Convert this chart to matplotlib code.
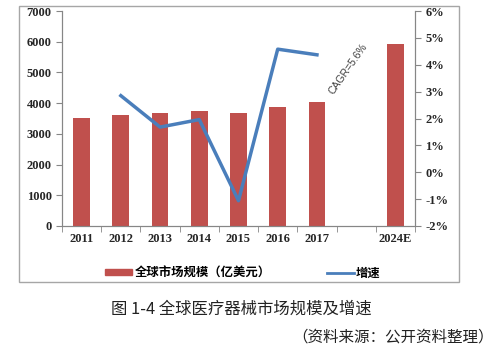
import numpy as np
import matplotlib
matplotlib.use("Agg")
import matplotlib.pyplot as plt
from matplotlib.patches import Rectangle
from matplotlib.lines import Line2D

plt.rcParams['font.family'] = ['Liberation Serif', 'Noto Sans CJK SC', 'DejaVu Sans']

# 数据
years = ['2011', '2012', '2013', '2014', '2015', '2016', '2017', '', '2024E']
market = [3500, 3610, 3670, 3745, 3690, 3865, 4040, np.nan, 5940]
growth_years = ['2012', '2013', '2014', '2015', '2016', '2017']
growth = [2.85, 1.68, 1.96, -1.06, 4.58, 4.37]

bar_color = '#C0504D'
line_color = '#4A7EBB'
axis_color = '#868686'

fig = plt.figure(figsize=(5.01, 3.52), dpi=100)
ax = fig.add_axes([62 / 501, 1 - 226 / 352, (415 - 62) / 501, (226 - 11) / 352])

x = np.arange(len(years))
ax.bar(x, market, width=0.43, color=bar_color, zorder=2)
ax.set_xlim(-0.5, len(years) - 0.5)
ax.set_ylim(0, 7000)
ax.set_yticks(range(0, 7001, 1000))
ax.set_xticks(x)
ax.set_xticklabels(years)
ax.set_xticks(np.arange(-0.5, len(years), 1), minor=True)
ax.tick_params(axis='x', which='major', length=0, pad=5)
ax.tick_params(axis='x', which='minor', length=4, direction='out', color=axis_color)
ax.tick_params(axis='y', length=4, direction='out', color=axis_color)
for lab in ax.get_xticklabels() + ax.get_yticklabels():
    lab.set_fontsize(9)
    lab.set_fontweight('bold')
    lab.set_color('#262626')
ax.spines['top'].set_visible(False)
for s in ['left', 'bottom', 'right']:
    ax.spines[s].set_color(axis_color)

ax2 = ax.twinx()
gx = [years.index(y) for y in growth_years]
ax2.plot(gx, growth, color=line_color, lw=2.5, zorder=3)
ax2.set_ylim(-2, 6)
ax2.set_yticks(range(-2, 7))
ax2.set_yticklabels([f'{v}%' for v in range(-2, 7)])
ax2.tick_params(axis='y', length=4, direction='out', color=axis_color)
for lab in ax2.get_yticklabels():
    lab.set_fontsize(9)
    lab.set_fontweight('bold')
    lab.set_color('#262626')
ax2.spines['top'].set_visible(False)
for s in ['left', 'bottom', 'right']:
    ax2.spines[s].set_color(axis_color)

ax2.text(6.8, 3.85, 'CAGR=5.6%', rotation=55, fontsize=7.5, color='#404040',
         family='Liberation Sans', ha='center', va='center')

# 图例
handles = [Rectangle((0, 0), 1, 1, color=bar_color), Line2D([], [], color=line_color, lw=2)]
labels = ['全球市场规模（亿美元）', '增速']
fig.legend(handles, labels, loc='center', bbox_to_anchor=(243 / 501, 1 - 273 / 352),
           ncol=2, frameon=False, handlelength=2.2, handleheight=0.45,
           columnspacing=4.5, handletextpad=0.2,
           prop={'family': 'Noto Sans CJK SC', 'weight': 'bold', 'size': 8.9})

# 外框
fig.patches.append(Rectangle((19 / 501, 1 - 282 / 352), (459 - 19) / 501, (282 - 6) / 352,
                             transform=fig.transFigure, fill=False, edgecolor='#a6a6a6', lw=1))

fig.text(241 / 501, 1 - 309 / 352, '图 1-4 全球医疗器械市场规模及增速', ha='center', va='center',
         fontsize=11.8, family=['Noto Sans CJK SC', 'DejaVu Sans'], color='#222222')
fig.text(494 / 501, 1 - 337 / 352, '（资料来源：公开资料整理）', ha='right', va='center',
         fontsize=11.2, family=['Noto Sans CJK SC', 'DejaVu Sans'], color='#222222')

fig.savefig('out.png', dpi=100)
